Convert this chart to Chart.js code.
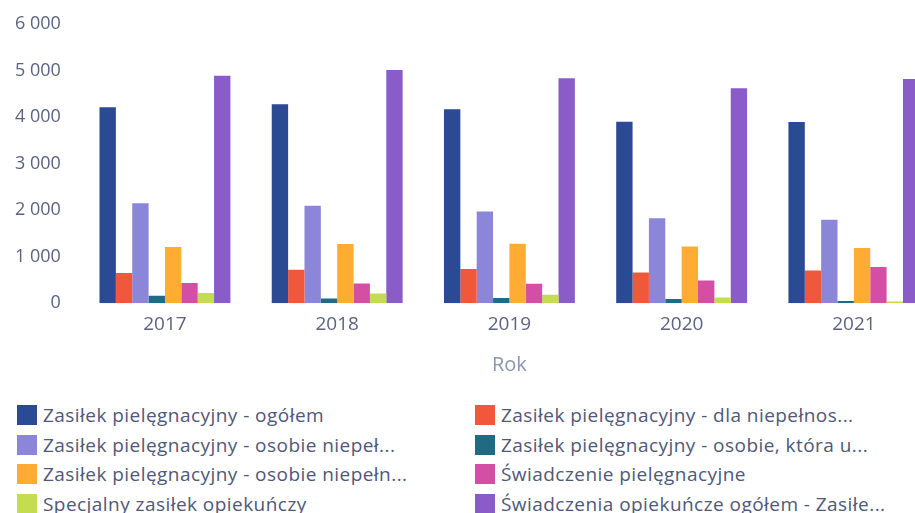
<!DOCTYPE html>
<html lang="pl">
<head>
<meta charset="utf-8">
<script src="https://cdn.jsdelivr.net/npm/chart.js@4"></script>
<style>
    html, body { margin: 0; padding: 0; background: #fff; overflow: hidden; width: 915px; height: 513px; }
    #chart-box { position: absolute; left: 0; top: 0; width: 940px; height: 381px; }
    #legend { position: absolute; left: 0; top: 402px; width: 915px; font-family: "Open Sans", sans-serif; font-size: 19px; letter-spacing: 0.45px; color: #4f5878; }
    .item { position: absolute; display: flex; align-items: center; white-space: nowrap; }
    .swatch { width: 20px; height: 20px; margin-right: 6px; }
</style>
</head>
<body>
<div id="chart-box"><canvas id="chart"></canvas></div>
<div id="legend"></div>
<script>
// Data
const years = ['2017', '2018', '2019', '2020', '2021'];
const seriesNames = [
    'Zasiłek pielęgnacyjny - ogółem',
    'Zasiłek pielęgnacyjny - dla niepełnos...',
    'Zasiłek pielęgnacyjny - osobie niepeł...',
    'Zasiłek pielęgnacyjny - osobie, która u...',
    'Zasiłek pielęgnacyjny -  osobie niepełn...',
    'Świadczenie pielęgnacyjne',
    'Specjalny zasiłek opiekuńczy',
    'Świadczenia opiekuńcze ogółem - Zasiłe...'
];
const ogolem        = [4210, 4275, 4167, 3902, 3895];
const dlaNiepelnos  = [648, 719, 734, 661, 704];
const osobieNiepel  = [2150, 2092, 1970, 1828, 1792];
const osobieKtora   = [160, 103, 112, 90, 45];
const osobieNiepeln = [1206, 1270, 1277, 1219, 1185];
const swiadczenie   = [433, 425, 418, 489, 777];
const specjalny     = [219, 210, 182, 124, 39];
const opiekuncze    = [4888, 5010, 4833, 4618, 4818];
const yTicks = [0, 1000, 2000, 3000, 4000, 5000, 6000];

const seriesValues = [ogolem, dlaNiepelnos, osobieNiepel, osobieKtora, osobieNiepeln, swiadczenie, specjalny, opiekuncze];
const colors = ['#2a4a93', '#f0583c', '#8b86d8', '#1f6b84', '#ffac35', '#d54ea6', '#c3dc50', '#8a5cc9'];

// Polish thousands separator
function fmt(v) {
    return String(v).replace(/\B(?=(\d{3})+(?!\d))/g, ' ');
}

const chart = new Chart(document.getElementById('chart'), {
    type: 'bar',
    data: {
        labels: years,
        datasets: seriesNames.map((name, i) => ({
            label: name,
            data: seriesValues[i],
            backgroundColor: colors[i],
            categoryPercentage: 0.76,
            barPercentage: 1.0
        }))
    },
    options: {
        responsive: true,
        maintainAspectRatio: false,
        animation: false,
        layout: { padding: { top: 24, left: 5, right: 0, bottom: 0 } },
        plugins: {
            legend: { display: false },
            tooltip: { enabled: false }
        },
        scales: {
            x: {
                grid: { display: false },
                border: { display: false },
                ticks: { color: '#5a6382', font: { family: 'Open Sans', size: 19 }, padding: 2 },
                title: { display: true, text: 'Rok', color: '#8d96b0', font: { family: 'Open Sans', size: 20 }, padding: { top: 15 } }
            },
            y: {
                min: 0,
                max: 6000,
                grid: { display: false },
                border: { display: false },
                afterBuildTicks: axis => { axis.ticks = yTicks.map(v => ({ value: v })); },
                ticks: {
                    color: '#5a6382',
                    font: { family: 'Open Sans', size: 18 },
                    padding: 10,
                    callback: v => fmt(v)
                }
            }
        }
    }
});

// Two-column legend built from the chart's datasets
const legend = document.getElementById('legend');
chart.data.datasets.forEach((ds, i) => {
    const item = document.createElement('div');
    item.className = 'item';
    const col = i % 2;
    const row = Math.floor(i / 2);
    item.style.left = (col === 0 ? 17 : 475) + 'px';
    item.style.top = (row * 29.5) + 'px';
    const sw = document.createElement('span');
    sw.className = 'swatch';
    sw.style.background = ds.backgroundColor;
    const txt = document.createElement('span');
    txt.textContent = ds.label;
    item.appendChild(sw);
    item.appendChild(txt);
    legend.appendChild(item);
});
</script>
</body>
</html>
